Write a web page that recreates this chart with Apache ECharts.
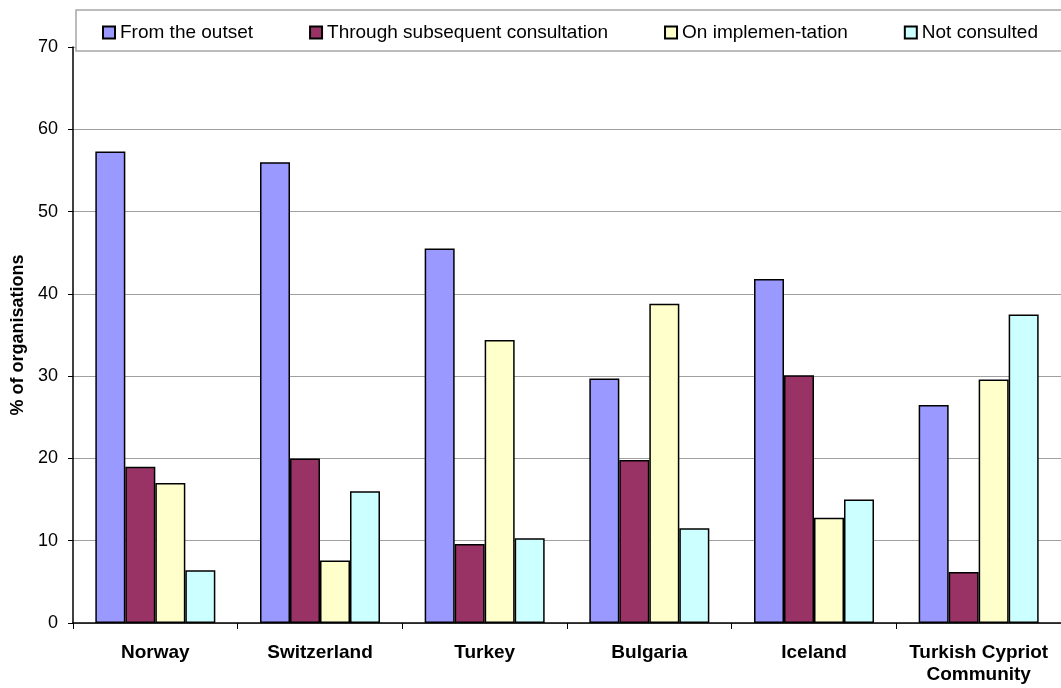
<!DOCTYPE html>
<html>
<head>
<meta charset="utf-8">
<script src="https://cdn.jsdelivr.net/npm/echarts@6/dist/echarts.min.js"></script>
<style>
html,body{margin:0;padding:0;background:#fff;}
#chart{width:1061px;height:688px;}
</style>
</head>
<body>
<div id="chart"></div>
<script>
const categories = ['Norway', 'Switzerland', 'Turkey', 'Bulgaria', 'Iceland', 'Turkish Cypriot\nCommunity'];
const seriesNames = ['From the outset', 'Through subsequent consultation', 'On implemen-tation', 'Not consulted'];
const fromOutset = [57.3, 56.0, 45.5, 29.7, 41.8, 26.5];
const subsequent = [19.0, 20.0, 9.6, 19.8, 30.1, 6.2];
const implementation = [17.0, 7.6, 34.4, 38.8, 12.8, 29.6];
const notConsulted = [6.4, 16.0, 10.3, 11.5, 15.0, 37.5];
const yTicks = [0, 10, 20, 30, 40, 50, 60, 70];
const colors = ['#9999FF', '#993366', '#FFFFCC', '#CCFFFF'];

const FONT = '"Liberation Sans", Arial, sans-serif';
const dataSets = [fromOutset, subsequent, implementation, notConsulted];

const chart = echarts.init(document.getElementById('chart'), null, {renderer: 'canvas'});
chart.setOption({
  animation: false,
  backgroundColor: '#ffffff',
  textStyle: {fontFamily: FONT},
  grid: {left: 73, right: 0, top: 47, bottom: 65, containLabel: false},
  graphic: [{
    type: 'rect',
    z: 10,
    shape: {x: 76, y: 10, width: 990, height: 41},
    style: {fill: '#ffffff', stroke: '#a6a6a6', lineWidth: 1.5}
  }],
  legend: {
    z: 20,
    left: 102,
    top: 23,
    icon: 'rect',
    itemWidth: 12,
    itemHeight: 12,
    itemGap: 56,
    padding: 0,
    textStyle: {fontFamily: FONT, fontSize: 19, color: '#000'},
    data: seriesNames
  },
  xAxis: {
    type: 'category',
    data: categories,
    axisLine: {lineStyle: {color: '#000', width: 1.5}},
    axisTick: {show: true, length: 6, lineStyle: {color: '#000', width: 1}},
    axisLabel: {
      margin: 19,
      fontFamily: FONT,
      fontSize: 19,
      fontWeight: 'bold',
      color: '#000',
      lineHeight: 22,
      interval: 0
    }
  },
  yAxis: {
    type: 'value',
    min: yTicks[0],
    max: yTicks[yTicks.length - 1],
    interval: 10,
    name: '% of organisations',
    nameLocation: 'middle',
    nameRotate: 90,
    nameGap: 44,
    nameTextStyle: {fontFamily: FONT, fontSize: 18, fontWeight: 'bold', color: '#000'},
    axisLine: {show: true, lineStyle: {color: '#000', width: 1.5}},
    axisTick: {show: true, length: 5, lineStyle: {color: '#000'}},
    axisLabel: {margin: 15, fontFamily: FONT, fontSize: 18, color: '#000'},
    splitLine: {show: true, lineStyle: {color: '#a0a0a0', width: 1}}
  },
  series: seriesNames.map((name, i) => ({
    name: name,
    type: 'bar',
    data: dataSets[i],
    barWidth: 30,
    barGap: '0%',
    itemStyle: {color: colors[i], borderColor: '#000', borderWidth: 1.5}
  }))
});
</script>
</body>
</html>
